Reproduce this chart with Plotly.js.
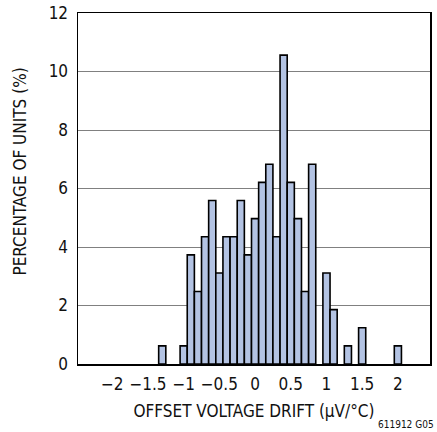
<!DOCTYPE html>
<html>
<head>
<meta charset="utf-8">
<script src="https://cdn.plot.ly/plotly-3.0.1.min.js"></script>
<style>html,body{margin:0;padding:0;background:#fff;}#chart{width:437px;height:432px;}</style>
</head>
<body>
<div id="chart"></div>
<script>
// Bin centers (µV/°C) and percentage of units
const driftBins = [-1.3, -1.0, -0.9, -0.8, -0.7, -0.6, -0.5, -0.4, -0.3, -0.2, -0.1, 0.0, 0.1, 0.2, 0.3, 0.4, 0.5, 0.6, 0.7, 0.8, 1.0, 1.1, 1.3, 1.5, 2.0];
const percentUnits = [0.62, 0.62, 3.73, 2.48, 4.35, 5.59, 3.11, 4.35, 4.35, 5.59, 3.73, 4.97, 6.21, 6.83, 4.35, 10.56, 6.21, 4.97, 2.48, 6.83, 3.11, 1.86, 0.62, 1.24, 0.62];
const xTickVals = [-2, -1.5, -1, -0.5, 0, 0.5, 1, 1.5, 2];
const xTickText = ['\u22122', '\u22121.5', '\u22121', '\u22120.5', '0', '0.5', '1', '1.5', '2'];
const yTickVals = [0, 2, 4, 6, 8, 10, 12];
const xTitle = 'OFFSET VOLTAGE DRIFT (\u00b5V/\u00b0C)';
const yTitle = 'PERCENTAGE OF UNITS (%)';
const noteText = '611912 G05';

const FONT = '"Liberation Sans Narrow", "DejaVu Sans Condensed", "Liberation Sans", sans-serif';

const trace = {
  type: 'bar',
  x: driftBins,
  y: percentUnits,
  width: 0.1,
  marker: {color: '#b3c3e3', line: {color: '#000', width: 1.6}},
  hoverinfo: 'x+y'
};

const layout = {
  width: 437, height: 432,
  margin: {l: 78, r: 7, t: 13, b: 68},
  paper_bgcolor: '#fff', plot_bgcolor: '#fff',
  showlegend: false,
  font: {family: FONT, size: 16, color: '#111'},
  xaxis: {
    range: [-2.48, 2.45],
    tickvals: xTickVals, ticktext: xTickText,
    showgrid: false, zeroline: false,
    showline: true, linecolor: '#000', linewidth: 1.5, mirror: true,
    ticks: 'outside', ticklen: 4, tickcolor: 'rgba(0,0,0,0)',
    tickfont: {family: FONT, size: 17, color: '#111'},
    title: {text: xTitle, font: {family: FONT, size: 17, color: '#111'}, standoff: 12}
  },
  yaxis: {
    range: [0, 12],
    tickvals: yTickVals,
    showgrid: true, gridcolor: '#808080', gridwidth: 1,
    zeroline: false,
    showline: true, linecolor: '#000', linewidth: 1.5, mirror: true,
    ticks: 'outside', ticklen: 5, tickcolor: 'rgba(0,0,0,0)',
    tickfont: {family: FONT, size: 17, color: '#111'}
  },
  annotations: [{
    text: yTitle, xref: 'paper', yref: 'paper',
    x: -0.166, y: 0.547, xanchor: 'center', yanchor: 'middle',
    textangle: -90, showarrow: false,
    font: {family: FONT, size: 17, color: '#111'}
  }, {
    text: noteText, xref: 'paper', yref: 'paper',
    x: 1.017, y: -0.152, xanchor: 'right', yanchor: 'top',
    showarrow: false, font: {family: FONT, size: 10, color: '#111'}
  }]
};

Plotly.newPlot('chart', [trace], layout, {displayModeBar: false, staticPlot: true});
</script>
</body>
</html>
